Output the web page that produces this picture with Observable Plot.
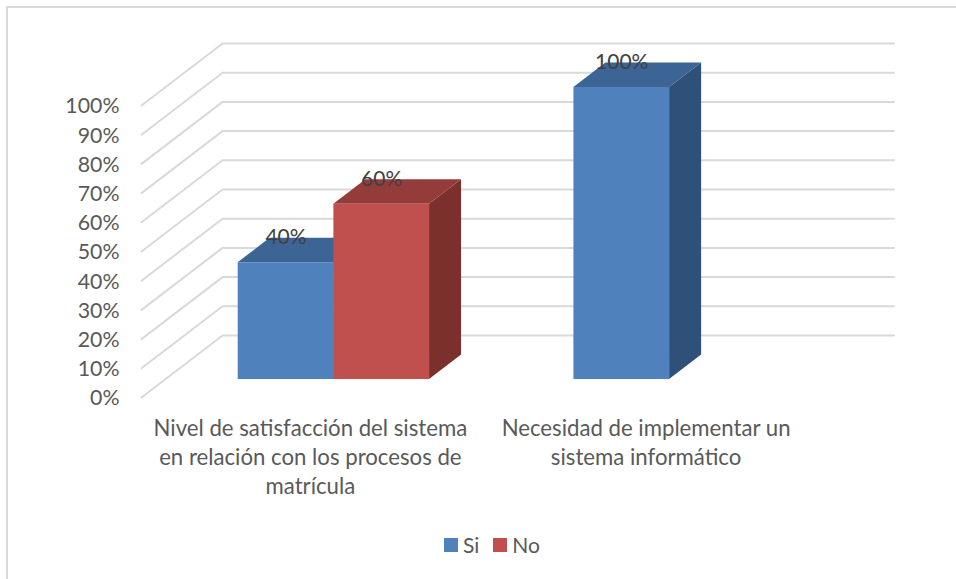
<!DOCTYPE html>
<html lang="es">
<head>
<meta charset="utf-8">
<script src="https://cdn.jsdelivr.net/npm/d3@7"></script>
<script src="https://cdn.jsdelivr.net/npm/@observablehq/plot@0.6"></script>
<style>
  html, body { margin: 0; padding: 0; background: #fff; overflow: hidden; }
  #frame { position: absolute; left: 6px; top: 6px; width: 960px; height: 590px;
           border: 2px solid #d9d9d9; box-sizing: border-box; }
  #chart { position: absolute; left: 0; top: 0; width: 956px; }
  #chart svg { display: block; background: transparent; }
  #legend { position: absolute; left: 444px; top: 530px; height: 28px; display: flex; align-items: center;
            font: 21px Lato, sans-serif; color: #595959; }
  #legend i { display: block; width: 14px; height: 14px; margin: 2px 5px 0 0; }
  #legend span { margin-right: 14px; }
</style>
</head>
<body>
<div id="frame"></div>
<div id="chart"></div>
<div id="legend"></div>
<script>
// Survey results, in percent
const categories = [
  "Nivel de satisfacción del sistema\nen relación con los procesos de\nmatrícula",
  "Necesidad de implementar un\nsistema informático"
];
const seriesNames = ["Si", "No"];
const siValues = [40, 100];
const noValues = [60, null];
const yTicks = [0, 10, 20, 30, 40, 50, 60, 70, 80, 90, 100];

// Face colours per series: front, top, side
const palette = {
  Si: ["#4f81bd", "#3c6494", "#2f5078"],
  No: ["#c0504d", "#943c3a", "#7c302e"]
};

// Oblique projection: depth 1 is the back wall, expressed in axis units
const wallX = 0.2414;
const wallY = 21.23;
const barWidth = 0.285;
const barFrontDepth = 0.29;
const barDepth = 0.395;
const groupCentre = 0.503;

const bars = [];
categories.forEach((_, i) => {
  [siValues, noValues].forEach((values, s) => {
    if (values[i] == null) return;
    const x0 = i + groupCentre - barWidth + s * barWidth + barFrontDepth * wallX;
    bars.push({ id: `${i}-${s}`, series: seriesNames[s], value: values[i], x0, x1: x0 + barWidth,
                base: barFrontDepth * wallY });
  });
});

const dx = barDepth * wallX, dy = barDepth * wallY;

const fronts = bars.map(b => ({ ...b, y1: b.base, y2: b.base + b.value, fill: palette[b.series][0] }));
const tops = bars.flatMap(b => [0, 1].map(t => ({
  id: b.id, fill: palette[b.series][1],
  y: b.base + b.value + t * dy, x1: b.x0 + t * dx, x2: b.x1 + t * dx
})));
const sides = bars.flatMap(b => [0, 1].map(t => ({
  id: b.id, fill: palette[b.series][2],
  x: b.x1 + t * dx, y1: b.base + t * dy, y2: b.base + b.value + t * dy
})));
const grid = yTicks.flatMap(v => [
  { v, x: 0, y: v },
  { v, x: wallX, y: v + wallY },
  { v, x: categories.length + wallX, y: v + wallY }
]);

const chart = Plot.plot({
  width: 956,
  height: 525,
  marginLeft: 141,
  marginRight: 62.5,
  marginTop: 43,
  marginBottom: 128,
  style: { fontFamily: "Lato, sans-serif", background: "transparent" },
  x: { domain: [0, categories.length + wallX] },
  y: { domain: [0, 100 + wallY] },
  marks: [
    Plot.line(grid, { x: "x", y: "y", z: "v", stroke: "#d9d9d9", strokeWidth: 2 }),
    Plot.areaY(sides, { x: "x", y1: "y1", y2: "y2", z: "id", fill: "fill" }),
    Plot.areaX(tops, { y: "y", x1: "x1", x2: "x2", z: "id", fill: "fill" }),
    Plot.rect(fronts, { x1: "x0", x2: "x1", y1: "y1", y2: "y2", fill: "fill" }),
    Plot.text(bars, {
      x: b => (b.x0 + b.x1) / 2,
      y: b => b.base + b.value + dy,
      dy: -1,
      text: b => `${b.value}%`,
      fontSize: 21,
      fill: "#404040"
    }),
    Plot.axisY({
      ticks: yTicks,
      tickFormat: d => `${d}%`,
      tickSize: 0,
      tickPadding: 22,
      dy: 1,
      fontSize: 21.3,
      color: "#595959",
      label: null
    }),
    Plot.axisX({
      ticks: categories.map((_, i) => i + 0.5),
      tickFormat: d => categories[Math.floor(d)],
      tickSize: 0,
      tickPadding: 18,
      dx: 1,
      fontSize: 22.2,
      lineHeight: 1.31,
      color: "#595959",
      label: null
    })
  ]
});
document.getElementById("chart").append(chart);

// Legend beneath the plot
const legend = document.getElementById("legend");
seriesNames.forEach(name => {
  const swatch = document.createElement("i");
  swatch.style.background = palette[name][0];
  const label = document.createElement("span");
  label.textContent = name;
  legend.append(swatch, label);
});
</script>
</body>
</html>
